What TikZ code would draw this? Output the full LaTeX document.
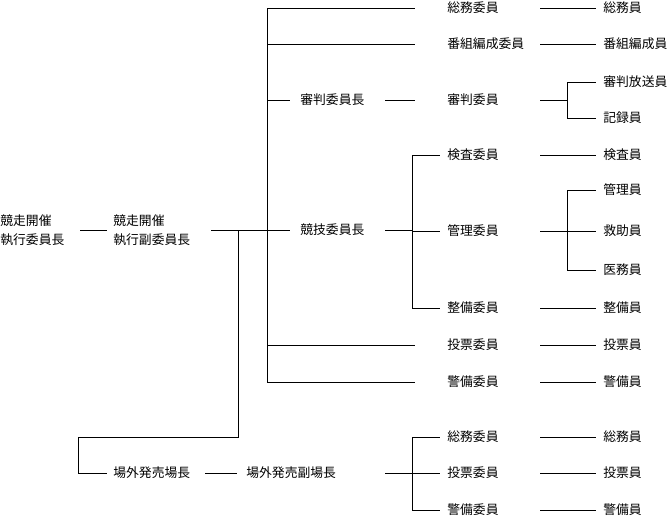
\documentclass[tikz,border=0pt]{standalone}
\usepackage{fontspec}
\setmainfont{Noto Sans CJK JP}
\usetikzlibrary{positioning}
\tikzset{post/.style={inner sep=0pt, anchor=west, font=\fontsize{12.8}{19}\selectfont, align=left}}
\begin{document}
\begin{tikzpicture}[x=1pt, y=-1pt, line width=0.7pt]
\useasboundingbox (0,0) rectangle (670,517);
% left side
\node [post] (chief) at (0, 230) {競走開催\\執行委員長};
\node [post] (vice) at (113, 230) {競走開催\\執行副委員長};
\node [post] (jg) at (300, 100) {審判委員長};
\node [post] (kg) at (300, 230) {競技委員長};
\node [post] (js) at (113, 473) {場外発売場長};
\node [post] (jv) at (246, 473) {場外発売副場長};
% middle column
\node [post] (m1) at (447, 8) {総務委員};
\node [post] (m2) at (447, 44) {番組編成委員};
\node [post] (m3) at (447, 100) {審判委員};
\node [post] (m4) at (447, 155) {検査委員};
\node [post] (m5) at (447, 231) {管理委員};
\node [post] (m6) at (447, 308) {整備委員};
\node [post] (m7) at (447, 345) {投票委員};
\node [post] (m8) at (447, 382) {警備委員};
\node [post] (m9) at (447, 437) {総務委員};
\node [post] (m10) at (447, 473) {投票委員};
\node [post] (m11) at (447, 510) {警備委員};
% right column
\node [post] (r1) at (603, 8) {総務員};
\node [post] (r2) at (603, 44) {番組編成員};
\node [post] (r3a) at (603, 82) {審判放送員};
\node [post] (r3b) at (603, 118) {記録員};
\node [post] (r4) at (603, 155) {検査員};
\node [post] (r5a) at (603, 190) {管理員};
\node [post] (r5b) at (603, 231) {救助員};
\node [post] (r5c) at (603, 270) {医務員};
\node [post] (r6) at (603, 308) {整備員};
\node [post] (r7) at (603, 345) {投票員};
\node [post] (r8) at (603, 382) {警備員};
\node [post] (r9) at (603, 437) {総務員};
\node [post] (r10) at (603, 473) {投票員};
\node [post] (r11) at (603, 510) {警備員};
% junctions
\coordinate (trunk) at (267, 8);
\coordinate (drop) at (238, 230);
\coordinate (turn) at (78, 437);
\coordinate (kx) at (412, 230);
\coordinate (jx) at (567, 100);
\coordinate (gx) at (567, 231);
\coordinate (sx) at (412, 473);
\coordinate (endm) at (415, 0);
\coordinate (endb) at (440, 0);
\coordinate (rs) at (540, 0);
\coordinate (re) at (596, 0);

\draw (80, 230) -- (107, 230);
\draw (211, 230) -- ([xshift=-10]kg.west);
\draw (trunk) -- (trunk |- m8);
\foreach \m in {m1, m2, m7, m8}
  \draw (trunk |- \m) -- (endm |- \m);
\draw (trunk |- jg) -- ([xshift=-10]jg.west);
\draw (385, 100) -- (endm |- m3);
\draw (385, 230) -- (kx);
\draw (kx |- m4) -- (kx |- m6);
\foreach \m in {m4, m5, m6}
  \draw (kx |- \m) -- (endb |- \m);
\draw (drop) -- (drop |- turn) -- (turn) -- (turn |- js) -- ([xshift=-6]js.west);
\draw (205, 473) -- (237, 473);
\draw (385, 473) -- (sx);
\draw (sx |- m9) -- (sx |- m11);
\foreach \m in {m9, m10, m11}
  \draw (sx |- \m) -- (endb |- \m);
% right links
\foreach \r in {r1, r2, r4, r6, r7, r8, r9, r10, r11}
  \draw (rs |- \r) -- (re |- \r);
\draw (rs |- m3) -- (jx);
\draw (jx |- r3a) -- (jx |- r3b);
\foreach \r in {r3a, r3b}
  \draw (jx |- \r) -- (re |- \r);
\draw (rs |- m5) -- (gx);
\draw (gx |- r5a) -- (gx |- r5c);
\foreach \r in {r5a, r5b, r5c}
  \draw (gx |- \r) -- (re |- \r);
\end{tikzpicture}
\end{document}
